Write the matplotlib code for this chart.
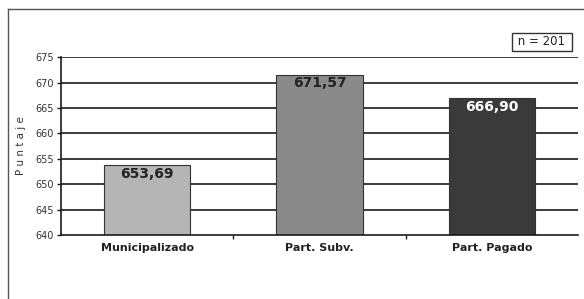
import matplotlib.pyplot as plt
from matplotlib.lines import Line2D

categories = ['Municipalizado', 'Part. Subv.', 'Part. Pagado']
scores = [653.69, 671.57, 666.90]
score_labels = ['653,69', '671,57', '666,90']
bar_colors = ['#b5b5b5', '#8a8a8a', '#3a3a3a']
label_colors = ['#222222', '#222222', '#ffffff']
y_ticks = [640, 645, 650, 655, 660, 665, 670, 675]


def main():
    fig = plt.figure(figsize=(5.84, 2.99), dpi=100)
    ax = fig.add_axes([0.1045, 0.214, 0.8852, 0.595])

    x = range(len(categories))
    ax.set_xlim(-0.5, 2.5)
    ax.set_ylim(640, 675)
    for yt in y_ticks[1:]:
        ax.axhline(yt, color='#1a1a1a', lw=1.2, zorder=1)
    ax.bar(x, [s - 640 for s in scores], bottom=640, width=0.5,
           color=bar_colors, edgecolor='#333333', lw=0.8, zorder=2)

    for i, s in enumerate(scores):
        ax.text(i, s - 1.7, score_labels[i], ha='center', va='center',
                fontsize=10, fontweight='bold', color=label_colors[i], zorder=3)

    ax.set_yticks(y_ticks)
    ax.set_yticklabels([str(t) for t in y_ticks], fontsize=7, color='#333333')
    ax.set_xticks([0.5, 1.5], minor=False)
    ax.set_xticklabels([])
    ax.set_xticks(list(x), minor=True)
    ax.set_xticklabels(categories, minor=True, fontsize=8, fontweight='bold',
                       color='#222222')
    ax.tick_params(axis='x', which='minor', length=0, pad=6)
    ax.tick_params(axis='x', which='major', length=3, width=1, color='#1a1a1a')
    ax.tick_params(axis='y', length=3, width=1, color='#1a1a1a', pad=2)

    for side in ['top', 'right']:
        ax.spines[side].set_visible(False)
    ax.spines['left'].set_linewidth(1.2)
    ax.spines['bottom'].set_linewidth(1.2)
    ax.spines['left'].set_color('#1a1a1a')
    ax.spines['bottom'].set_color('#1a1a1a')

    ax.set_ylabel('P u n t a j e', fontsize=7.5, color='#333333', labelpad=7)

    ax.text(0.983, 1.085, ' n = 201 ', transform=ax.transAxes, ha='right',
            va='center', fontsize=8.5, color='#222222',
            bbox=dict(boxstyle='square,pad=0.2', fc='white', ec='#333333', lw=1))

    # outer frame (top and left only visible)
    fig.add_artist(Line2D([0.0137, 0.0137], [0.0, 0.97], color='#555555', lw=1,
                          transform=fig.transFigure))
    fig.add_artist(Line2D([0.0137, 1.0], [0.97, 0.97], color='#555555', lw=1,
                          transform=fig.transFigure))

    fig.savefig('out.png', dpi=100)


if __name__ == '__main__':
    main()
